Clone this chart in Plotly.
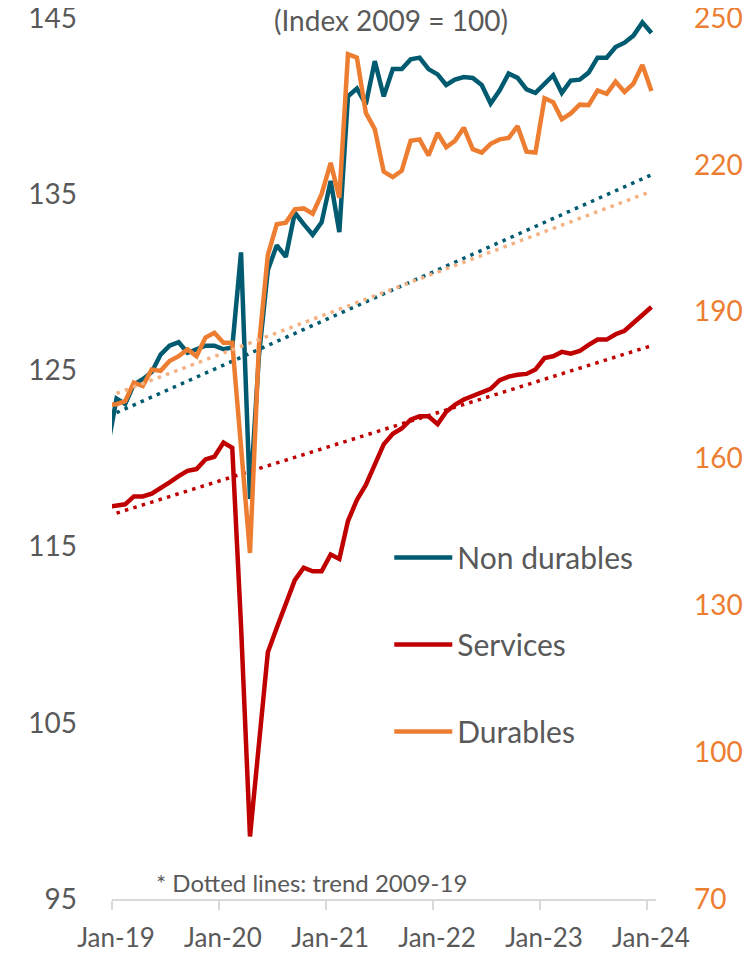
import pandas as pd
import plotly.graph_objects as go

# monthly observations, Dec-18 .. Jan-24 (first point sits just left of the axis start)
months = pd.date_range("2018-12-01", "2024-01-01", freq="MS")

non_durables = [
    120.6,
    123.4, 123.1, 124.2, 124.5, 124.9, 125.9, 126.4, 126.6, 126.0, 126.2, 126.4, 126.4,
    126.2, 126.3, 131.7, 117.7, 125.8, 130.7, 132.1, 131.45, 133.95, 133.3, 132.7, 133.4,
    135.75, 132.85, 140.55, 141.0, 140.1, 142.55, 140.55, 142.1, 142.1, 142.65, 142.75, 142.1,
    141.8, 141.2, 141.5, 141.65, 141.6, 141.2, 140.15, 140.9, 141.85, 141.6, 140.95, 140.75,
    141.3, 141.75, 140.75, 141.45, 141.5, 141.9, 142.75, 142.75, 143.35, 143.6, 144.0, 144.75,
    144.15,
]

services = [
    117.25,
    117.3, 117.4, 117.85, 117.85, 118.0, 118.3, 118.65, 119.0, 119.3, 119.4, 119.95, 120.1,
    120.9, 120.6, 110.5, 98.55, 104.0, 109.0, 110.4, 111.7, 113.1, 113.8, 113.6, 113.6,
    114.55, 114.3, 116.45, 117.65, 118.5, 119.65, 120.8, 121.4, 121.7, 122.2, 122.4, 122.4,
    121.95, 122.65, 123.05, 123.35, 123.55, 123.75, 123.95, 124.45, 124.65, 124.75, 124.8, 125.05,
    125.7, 125.8, 126.05, 125.95, 126.1, 126.45, 126.75, 126.75, 127.05, 127.25, 127.7, 128.15,
    128.6,
]

# durables are read on the right axis
durables = [
    171.0,
    171.1, 171.7, 175.5, 174.8, 178.2, 177.9, 179.9, 180.9, 182.3, 180.9, 184.7, 185.7,
    183.65, 183.65, 163.5, 140.7, 183.0, 201.6, 207.85, 208.2, 210.9, 211.1, 210.0, 214.0,
    220.4, 213.3, 242.6, 241.9, 230.6, 227.3, 218.6, 217.5, 218.8, 224.9, 225.2, 221.9,
    226.5, 223.6, 224.9, 227.6, 223.2, 222.5, 224.3, 225.2, 225.5, 227.9, 222.7, 222.5,
    233.6, 232.8, 229.3, 230.5, 232.3, 232.2, 235.2, 234.5, 237.0, 234.9, 236.6, 240.4,
    235.1,
]

# 2009-19 trend lines, start and end of the window
trend_months = ["2019-01-01", "2024-01-01"]
trend_non_durables = [122.6, 136.1]
trend_services = [116.9, 126.4]
trend_durables = [173.3, 214.6]

year_ticks = ["2019-01-01", "2020-01-01", "2021-01-01", "2022-01-01", "2023-01-01", "2024-01-01"]
year_labels = ["Jan-19", "Jan-20", "Jan-21", "Jan-22", "Jan-23", "Jan-24"]

TEAL = "#005A70"
RED = "#C00000"
ORANGE = "#ED7D31"
LIGHT_ORANGE = "#F4B183"
GREY = "#595959"
FONT = "Lato"

fig = go.Figure()

period = dict(xperiod="M1", xperiodalignment="middle")

fig.add_trace(go.Scatter(x=months, y=non_durables, mode="lines", name="Non durables",
                         line=dict(color=TEAL, width=4.5), legendgroup="a", legendrank=1,
                         hoverinfo="skip", **period))
fig.add_trace(go.Scatter(x=months, y=services, mode="lines", name="Services",
                         line=dict(color=RED, width=4.5), legendgroup="b", legendrank=2,
                         hoverinfo="skip", **period))
fig.add_trace(go.Scatter(x=months, y=durables, mode="lines", name="Durables", yaxis="y2",
                         line=dict(color=ORANGE, width=4.5), legendgroup="c", legendrank=3,
                         hoverinfo="skip", **period))

dots = "3.5px,5.3px"
fig.add_trace(go.Scatter(x=trend_months, y=trend_non_durables, mode="lines", showlegend=False,
                         line=dict(color=TEAL, width=3.5, dash=dots), hoverinfo="skip", **period))
fig.add_trace(go.Scatter(x=trend_months, y=trend_services, mode="lines", showlegend=False,
                         line=dict(color=RED, width=3.5, dash=dots), hoverinfo="skip", **period))
fig.add_trace(go.Scatter(x=trend_months, y=trend_durables, mode="lines", showlegend=False, yaxis="y2",
                         line=dict(color=LIGHT_ORANGE, width=3.5, dash=dots), hoverinfo="skip", **period))

# page body keeps its default 8px margin, so the figure is 8px smaller each way
fig.update_layout(
    width=745, height=946,
    margin=dict(l=104, r=97, t=10, b=55),
    plot_bgcolor="white", paper_bgcolor="white",
    font=dict(family=FONT, color=GREY, size=26),
    xaxis=dict(type="date", range=["2019-01-01", "2024-02-01"],
               tickvals=year_ticks, ticktext=year_labels, automargin=False,
               ticklabeloverflow="allow",
               showgrid=False, zeroline=False,
               showline=True, linecolor="#D9D9D9", linewidth=1.5,
               ticks="outside", ticklen=9, tickcolor="#D9D9D9", tickwidth=1.5,
               ticklabelstandoff=6, ticklabelshift=4,
               tickfont=dict(size=26, color=GREY)),
    yaxis=dict(range=[95, 145], tickvals=[95, 105, 115, 125, 135, 145], automargin=False,
               ticklabeloverflow="allow",
               showgrid=False, zeroline=False, ticks="", ticklabelstandoff=34,
               tickfont=dict(size=28, color=GREY)),
    yaxis2=dict(range=[70, 250], tickvals=[70, 100, 130, 160, 190, 220, 250],
                overlaying="y", side="right", automargin=False,
                ticklabeloverflow="allow",
                showgrid=False, zeroline=False, ticks="", ticklabelstandoff=37,
                tickfont=dict(size=28, color=ORANGE)),
    legend=dict(x=0.5097, y=0.417, xanchor="left", yanchor="top",
                bgcolor="rgba(0,0,0,0)", font=dict(size=30, color=GREY),
                tracegroupgap=45, itemwidth=58),
    showlegend=True,
)

fig.add_annotation(text="(Index 2009 = 100)", xref="paper", yref="paper", x=0.513, y=0.9975,
                   xanchor="center", yanchor="middle", showarrow=False,
                   font=dict(size=28, color=GREY))
fig.add_annotation(text="* Dotted lines: trend 2009-19", xref="paper", yref="paper", x=0.367, y=0.019,
                   xanchor="center", yanchor="middle", showarrow=False,
                   font=dict(size=24, color=GREY))

fig.write_html("out.html")
